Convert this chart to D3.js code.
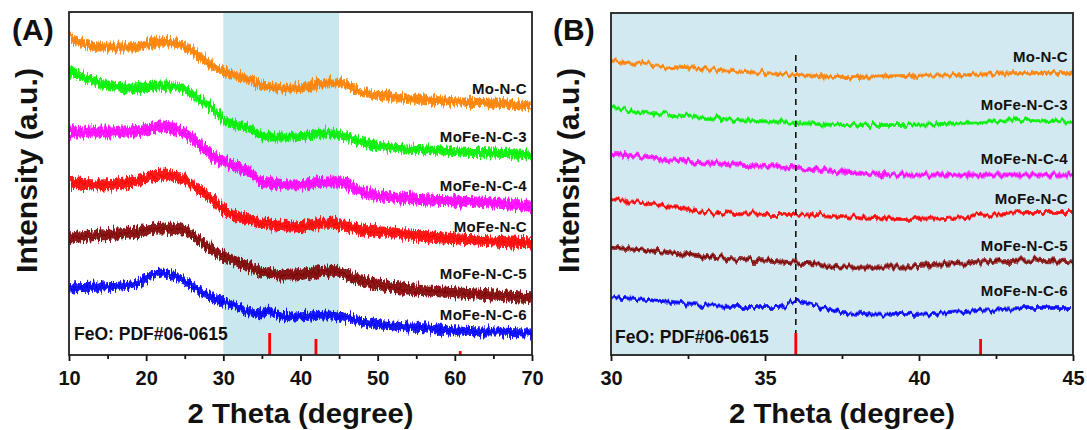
<!DOCTYPE html>
<html>
<head>
<meta charset="utf-8">
<script src="https://cdn.jsdelivr.net/npm/d3@7"></script>
<style>
  html, body { margin: 0; padding: 0; background: #fff; }
  svg text { font-family: Arial, "Liberation Sans", sans-serif; font-weight: bold; fill: #111; }
</style>
</head>
<body>
<svg id="chart" width="1087" height="430"></svg>
<script>
// ---------------- DATA ----------------
const seriesNames = ["Mo-N-C", "MoFe-N-C-3", "MoFe-N-C-4", "MoFe-N-C", "MoFe-N-C-5", "MoFe-N-C-6"];

// Panel A: 2θ 10–70°, intensity in a.u. (stacked offsets included)
const thetaA = [10, 14, 18, 22, 24.5, 27, 29, 30.5, 33.5, 35, 36, 37, 39, 43.5, 45, 48, 52, 56.5, 60.5, 65, 70];
const moNC_A     = [318, 308, 308, 313, 310, 298, 288, 282, 275, 269, 268, 267, 266, 272, 272, 263, 258, 255, 253, 252, 249];
const moFeNC3_A  = [285, 272, 267, 269, 267, 255, 244, 233, 226, 219, 218, 218, 218, 222, 220, 213, 207, 205, 203, 202, 200];
const moFeNC4_A  = [223, 223, 223, 228, 224, 210, 197, 192, 182, 173, 172, 171, 170, 173, 173, 163, 158, 155, 154, 152, 149];
const moFeNC_A   = [172, 170, 173, 180, 177, 165, 152, 143, 135, 132, 131, 130, 128, 132, 131, 125, 122, 118, 116, 114, 112];
const moFeNC5_A  = [117, 120, 122, 127, 126, 114, 103, 97, 88, 83, 82, 80, 80, 84, 83, 74, 68, 64, 62, 60, 57];
const moFeNC6_A  = [67, 68, 70, 82, 76, 64, 56, 52, 43, 41, 45, 40, 38, 40, 39, 33, 29, 27, 24, 23, 22];
const noiseA     = [4.5, 4.5, 5.5, 5.5, 5.5, 4.5];   // half-width of the noise band (a.u.)
const labelA     = [261, 213, 164, 123, 76, 35];    // label anchor intensity (a.u.)

// Panel B: 2θ 30–45° (zoom)
const thetaB = [30, 32, 34, 35.5, 36, 36.7, 37.5, 39.5, 41.5, 43.5, 45];
const moNC_B     = [295, 288, 284, 281, 280, 279, 278, 279, 280, 282, 282];
const moFeNC3_B  = [247, 240, 235, 233, 232, 231, 230, 230, 232, 235, 233];
const moFeNC4_B  = [202, 195, 190, 188, 187, 185, 183, 180, 180, 180, 180];
const moFeNC_B   = [156, 148, 141, 140, 140, 141, 139, 136, 138, 142, 142];
const moFeNC5_B  = [108, 102, 96, 93, 92, 91, 88, 88, 92, 95, 93];
const moFeNC6_B  = [58, 53, 48, 48, 54, 49, 42, 40, 43, 47, 47];
const noiseB     = [2, 2, 2.5, 2, 2.5, 2];
const labelB     = [293, 245, 191, 151, 104, 59];

// FeO reference pattern (PDF#06-0615)
const feoTheta = [36.0, 42.0, 60.7];
const feoRel   = [100, 73, 18];
const feoLabel = "FeO: PDF#06-0615";

// Axis ticks
const ticksA = [10, 20, 30, 40, 50, 60, 70];
const minorA = [15, 25, 35, 45, 55, 65];
const ticksB = [30, 35, 40, 45];
const minorB = [32.5, 37.5, 42.5];
const shadeA = [30, 45];
const dashB  = 36;

// ---------------- STYLE ----------------
const colors = ["#ff8000", "#00f000", "#ff00ff", "#ff0000", "#800000", "#0000ff"];
const seriesA = [moNC_A, moFeNC3_A, moFeNC4_A, moFeNC_A, moFeNC5_A, moFeNC6_A];
const seriesB = [moNC_B, moFeNC3_B, moFeNC4_B, moFeNC_B, moFeNC5_B, moFeNC6_B];

const svg = d3.select("#chart");
const defs = svg.append("defs");
function roughFilter(id, fx, fy, scale, seed) {
  const f = defs.append("filter").attr("id", id)
    .attr("x", "-2%").attr("y", "-40%").attr("width", "104%").attr("height", "180%");
  f.append("feTurbulence").attr("type", "fractalNoise")
    .attr("baseFrequency", fx + " " + fy).attr("numOctaves", 2).attr("seed", seed).attr("result", "n");
  f.append("feDisplacementMap").attr("in", "SourceGraphic").attr("in2", "n")
    .attr("scale", scale).attr("xChannelSelector", "B").attr("yChannelSelector", "R");
}
roughFilter("roughA", 0.6, 0.07, 12, 4);
roughFilter("roughB", 0.25, 0.04, 10, 7);

function panel(cfg) {
  const g = svg.append("g");
  const x = d3.scaleLinear().domain(cfg.xDomain).range([cfg.left, cfg.right]);
  const y = d3.scaleLinear().domain([0, cfg.bottom - cfg.top]).range([cfg.bottom, cfg.top]);
  const stick = d3.scaleLinear().domain([0, 100]).range([cfg.bottom, cfg.bottom - 22]);

  if (cfg.bg) {
    g.append("rect").attr("x", cfg.left).attr("y", cfg.top)
      .attr("width", cfg.right - cfg.left).attr("height", cfg.bottom - cfg.top).attr("fill", cfg.bg);
  }
  if (cfg.shade) {
    g.append("rect").attr("x", x(cfg.shade[0])).attr("y", cfg.top)
      .attr("width", x(cfg.shade[1]) - x(cfg.shade[0])).attr("height", cfg.bottom - cfg.top)
      .attr("fill", "#c8e7ef");
  }

  const clipId = "clip" + cfg.name;
  defs.append("clipPath").attr("id", clipId).append("rect")
    .attr("x", cfg.left).attr("y", cfg.top).attr("width", cfg.right - cfg.left).attr("height", cfg.bottom - cfg.top);

  const traces = g.append("g").attr("clip-path", `url(#${clipId})`);
  cfg.series.forEach((vals, i) => {
    const pts = cfg.theta.map((t, k) => ({ t, v: vals[k] }));
    const h = cfg.noise[i];
    const area = d3.area().curve(d3.curveMonotoneX)
      .x(d => x(d.t)).y0(d => y(d.v - h)).y1(d => y(d.v + h));
    const line = d3.line().curve(d3.curveMonotoneX).x(d => x(d.t)).y(d => y(d.v));
    const tg = traces.append("g").attr("filter", `url(#${cfg.filter})`);
    tg.append("path").attr("d", area(pts)).attr("fill", colors[i]).attr("opacity", cfg.bandOpacity);
    tg.append("path").attr("d", line(pts)).attr("fill", "none").attr("stroke", colors[i]).attr("stroke-width", cfg.lineWidth);
  });

  if (cfg.dash !== undefined) {
    g.append("line").attr("x1", x(cfg.dash)).attr("x2", x(cfg.dash))
      .attr("y1", y(300)).attr("y2", cfg.bottom)
      .attr("stroke", "#111").attr("stroke-width", 1.6).attr("stroke-dasharray", "6,5");
  }

  feoTheta.forEach((t, k) => {
    if (t < cfg.xDomain[0] || t > cfg.xDomain[1]) return;
    g.append("line").attr("x1", x(t)).attr("x2", x(t))
      .attr("y1", stick(feoRel[k])).attr("y2", cfg.bottom)
      .attr("stroke", "#ff0000").attr("stroke-width", 2.8);
  });

  cfg.series.forEach((vals, i) => {
    g.append("text").attr("x", x(cfg.xDomain[1]) - 5).attr("y", y(cfg.labels[i]))
      .attr("text-anchor", "end").attr("font-size", 15).attr("letter-spacing", "0.3px").text(seriesNames[i]);
  });
  g.append("text").attr("x", cfg.left + cfg.feoDx).attr("y", cfg.feoY)
    .attr("font-size", 17.5).text(feoLabel);

  const ax = g.append("g").attr("transform", `translate(0,${cfg.bottom})`)
    .call(d3.axisBottom(x).tickValues(cfg.ticks).tickSize(6).tickPadding(10).tickFormat(d3.format("d")));
  ax.select(".domain").remove();
  ax.selectAll("line").attr("stroke", "#111").attr("stroke-width", 1.8);
  ax.selectAll("text").attr("font-size", 20).attr("fill", "#111")
    .style("font-family", "Arial, 'Liberation Sans', sans-serif").style("font-weight", "bold");
  const mx = g.append("g").attr("transform", `translate(0,${cfg.bottom})`)
    .call(d3.axisBottom(x).tickValues(cfg.minor).tickSize(4).tickFormat(""));
  mx.select(".domain").remove();
  mx.selectAll("line").attr("stroke", "#111").attr("stroke-width", 1.8);

  g.append("rect").attr("x", cfg.left).attr("y", cfg.top)
    .attr("width", cfg.right - cfg.left).attr("height", cfg.bottom - cfg.top)
    .attr("fill", "none").attr("stroke", "#222").attr("stroke-width", 1.8);

  const cx = (cfg.left + cfg.right) / 2;
  g.append("text").attr("x", cx).attr("y", 423).attr("text-anchor", "middle")
    .attr("font-size", 27).attr("textLength", 226).attr("lengthAdjust", "spacingAndGlyphs")
    .text("2 Theta (degree)");
  g.append("text").attr("transform", `translate(${cfg.yTitleX},170.5) rotate(-90)`)
    .attr("text-anchor", "middle").attr("font-size", 29).attr("textLength", 205)
    .attr("lengthAdjust", "spacingAndGlyphs").text("Intensity (a.u.)");
  g.append("text").attr("x", cfg.panelX).attr("y", 40).attr("font-size", 30).text(cfg.panelLabel);
}

panel({
  name: "A", left: 69, right: 532, top: 12, bottom: 355, xDomain: [10, 70],
  theta: thetaA, series: seriesA, noise: noiseA, labels: labelA,
  ticks: ticksA, minor: minorA, shade: shadeA, filter: "roughA", bandOpacity: 0.9, lineWidth: 1.6,
  feoDx: 5, feoY: 340, yTitleX: 37, panelX: 12, panelLabel: "(A)"
});
panel({
  name: "B", left: 611, right: 1073, top: 13, bottom: 355, xDomain: [30, 45],
  theta: thetaB, series: seriesB, noise: noiseB, labels: labelB,
  ticks: ticksB, minor: minorB, bg: "#d2e9f1", dash: dashB, filter: "roughB", bandOpacity: 0.75, lineWidth: 1.6,
  feoDx: 4, feoY: 343, yTitleX: 579, panelX: 553, panelLabel: "(B)"
});
</script>
</body>
</html>
